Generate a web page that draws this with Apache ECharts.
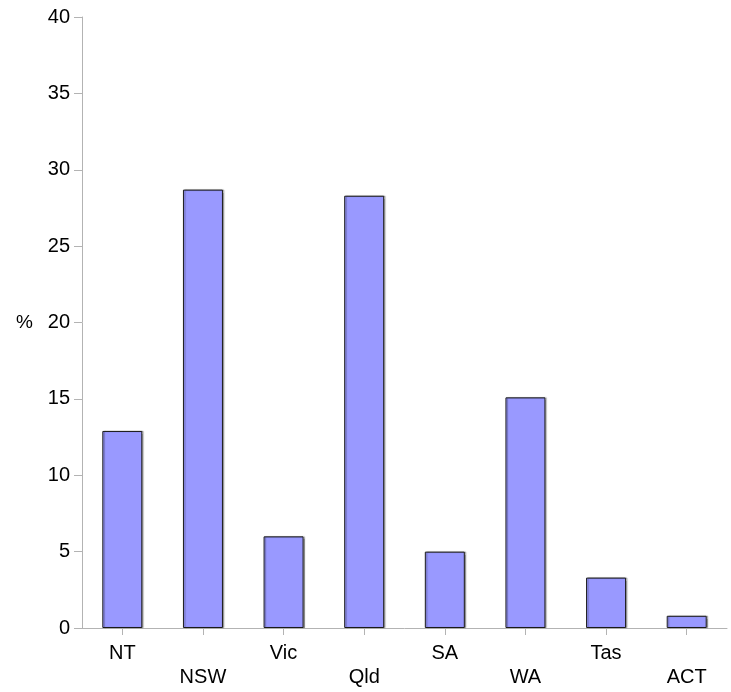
<!DOCTYPE html>
<html>
<head>
<meta charset="utf-8">
<script src="https://cdn.jsdelivr.net/npm/echarts@6/dist/echarts.min.js"></script>
<style>
html,body{margin:0;padding:0;background:#fff;}
#chart{width:731px;height:692px;}
</style>
</head>
<body>
<div id="chart"></div>
<script>
const categories = ['NT', 'NSW', 'Vic', 'Qld', 'SA', 'WA', 'Tas', 'ACT'];
const values = [12.9, 28.7, 6.0, 28.3, 5.0, 15.1, 3.3, 0.8];
const yTicks = [0, 5, 10, 15, 20, 25, 30, 35, 40];
const yLabel = '%';

const chart = echarts.init(document.getElementById('chart'), null, {renderer: 'canvas'});
const font = 'Liberation Sans, Arial, sans-serif';
chart.setOption({
  animation: false,
  backgroundColor: '#ffffff',
  grid: {left: 82, right: 4, top: 17, bottom: 64, containLabel: false},
  xAxis: {
    type: 'category',
    data: categories,
    axisLine: {lineStyle: {color: '#b3b3b3', width: 1}},
    axisTick: {show: true, alignWithLabel: true, length: 7, lineStyle: {color: '#b3b3b3'}},
    axisLabel: {
      interval: 0,
      margin: 13,
      color: '#000',
      fontFamily: font,
      fontSize: 20,
      lineHeight: 24,
      formatter: function (v, i) { return i % 2 === 1 ? '\n' + v : v; }
    },
    splitLine: {show: false}
  },
  yAxis: {
    type: 'value',
    min: yTicks[0],
    max: yTicks[yTicks.length - 1],
    interval: yTicks[1] - yTicks[0],
    name: yLabel,
    nameLocation: 'middle',
    nameRotate: 0,
    nameGap: 49,
    nameTextStyle: {color: '#000', fontFamily: font, fontSize: 19},
    axisLine: {show: true, lineStyle: {color: '#b3b3b3', width: 1}},
    axisTick: {show: true, length: 8, lineStyle: {color: '#b3b3b3'}},
    axisLabel: {color: '#000', fontFamily: font, fontSize: 20, margin: 12},
    splitLine: {show: false}
  },
  series: [{
    type: 'bar',
    data: values,
    barWidth: 40,
    itemStyle: {
      color: '#9999ff',
      borderColor: '#1a1a1a',
      borderWidth: 1,
      shadowColor: 'rgba(0,0,0,0.3)',
      shadowOffsetX: 1.5,
      shadowOffsetY: 0,
      shadowBlur: 1
    }
  }]
});
</script>
</body>
</html>
